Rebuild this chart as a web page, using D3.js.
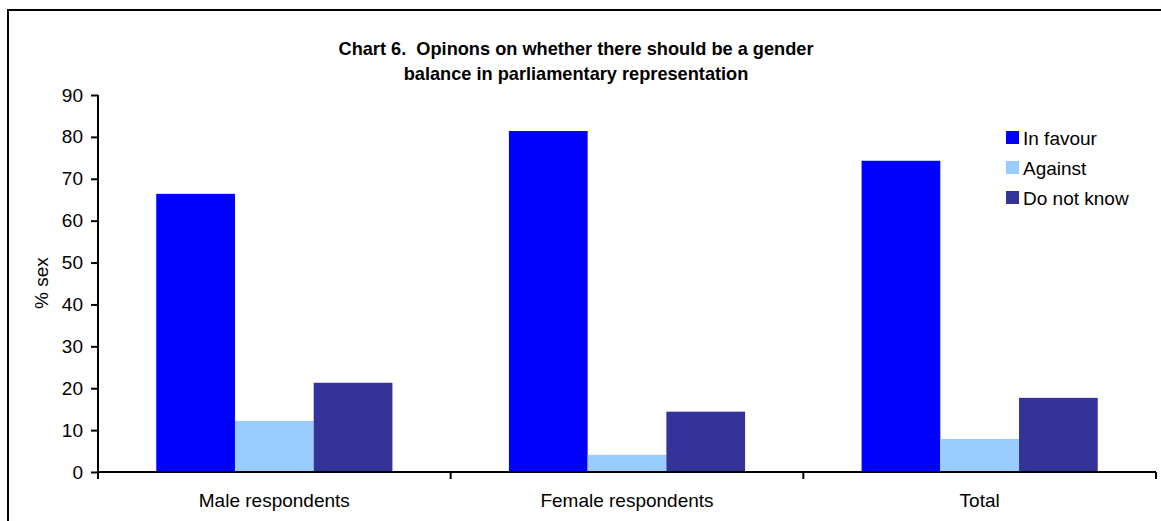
<!DOCTYPE html>
<html>
<head>
<meta charset="utf-8">
<script src="https://cdn.jsdelivr.net/npm/d3@7"></script>
<style>
  html, body { margin: 0; padding: 0; background: #fff; }
  svg { display: block; font-family: "Liberation Sans", Arial, sans-serif; }
  .title { white-space: pre; }
</style>
</head>
<body>
<svg id="chart" width="1161" height="521"></svg>
<script>
// Survey results: share of respondents by opinion, per group
const categories = ["Male respondents", "Female respondents", "Total"];
const seriesNames = ["In favour", "Against", "Do not know"];
const inFavour = [66.4, 81.4, 74.3];
const against = [12.2, 4.1, 7.9];
const doNotKnow = [21.3, 14.4, 17.7];
const yTicks = [0, 10, 20, 30, 40, 50, 60, 70, 80, 90];
const colors = ["#0000ff", "#99ccff", "#333399"];
const titleLines = [
  "Chart 6.  Opinons on whether there should be a gender",
  "balance in parliamentary representation"
];

const seriesValues = [inFavour, against, doNotKnow];
const rows = categories.map((c, i) => ({
  category: c,
  values: seriesNames.map((s, j) => ({ series: s, value: seriesValues[j][i] }))
}));

const svg = d3.select("#chart");
const fontSize = 19;

// outer frame
svg.append("rect")
  .attr("x", 8).attr("y", 10)
  .attr("width", 1170).attr("height", 530)
  .attr("fill", "none").attr("stroke", "#000").attr("stroke-width", 2);

const plot = { left: 98, right: 1156, top: 95, bottom: 472 };

const x0 = d3.scaleBand()
  .domain(categories)
  .range([plot.left, plot.right])
  .paddingInner(0).paddingOuter(0);

const x1 = d3.scaleBand()
  .domain(seriesNames)
  .range([0, x0.bandwidth()])
  .paddingInner(0).paddingOuter(0.74);

const y = d3.scaleLinear().domain([0, 90]).range([plot.bottom, plot.top]);

const color = d3.scaleOrdinal().domain(seriesNames).range(colors);

// bars
const groups = svg.append("g").selectAll("g")
  .data(rows).join("g")
  .attr("transform", d => `translate(${x0(d.category)},0)`);

groups.selectAll("rect")
  .data(d => d.values).join("rect")
  .attr("x", d => x1(d.series))
  .attr("y", d => y(d.value))
  .attr("width", x1.bandwidth())
  .attr("height", d => y(0) - y(d.value))
  .attr("fill", d => color(d.series));

// y axis
const yAxis = svg.append("g")
  .attr("transform", `translate(${plot.left},0)`)
  .call(d3.axisLeft(y).tickValues(yTicks).tickSize(7).tickPadding(8).tickSizeOuter(0));
yAxis.select(".domain").remove();
yAxis.selectAll(".tick line").attr("stroke", "#000").attr("stroke-width", 2);
yAxis.selectAll(".tick text")
  .attr("font-size", fontSize).attr("fill", "#000")
  .attr("font-family", "Liberation Sans, Arial, sans-serif");
yAxis.append("line")
  .attr("x1", 0).attr("x2", 0)
  .attr("y1", plot.top).attr("y2", plot.bottom + 7)
  .attr("stroke", "#000").attr("stroke-width", 2);

// x axis: baseline, ticks at band boundaries, labels centred in bands
const xAxis = svg.append("g");
xAxis.append("line")
  .attr("x1", plot.left).attr("x2", plot.right)
  .attr("y1", y(0)).attr("y2", y(0))
  .attr("stroke", "#000").attr("stroke-width", 2);
const boundaries = categories.map(c => x0(c) + x0.bandwidth()).concat([x0(categories[0])]);
xAxis.selectAll("line.tick")
  .data(boundaries).join("line")
  .attr("class", "tick")
  .attr("x1", d => d).attr("x2", d => d)
  .attr("y1", y(0)).attr("y2", y(0) + 7)
  .attr("stroke", "#000").attr("stroke-width", 2);
xAxis.selectAll("text")
  .data(categories).join("text")
  .attr("x", d => x0(d) + x0.bandwidth() / 2)
  .attr("y", 507)
  .attr("text-anchor", "middle")
  .attr("font-size", fontSize)
  .attr("fill", "#000")
  .text(d => d);

// y axis title
svg.append("text")
  .attr("transform", "translate(48,283) rotate(-90)")
  .attr("text-anchor", "middle")
  .attr("font-size", fontSize)
  .attr("fill", "#000")
  .text("% sex");

// chart title
svg.append("g").selectAll("text")
  .data(titleLines).join("text")
  .attr("class", "title")
  .attr("x", 576)
  .attr("y", (d, i) => 55 + i * 25)
  .attr("text-anchor", "middle")
  .attr("font-size", 18.2)
  .attr("font-weight", "bold")
  .attr("fill", "#000")
  .text(d => d);

// legend
const legend = svg.append("g").attr("transform", "translate(1006,131)");
const items = legend.selectAll("g")
  .data(seriesNames).join("g")
  .attr("transform", (d, i) => `translate(0,${i * 30})`);
items.append("rect")
  .attr("width", 13).attr("height", 13)
  .attr("fill", d => color(d));
items.append("text")
  .attr("x", 17).attr("y", 13.5)
  .attr("font-size", fontSize)
  .attr("fill", "#000")
  .text(d => d);
</script>
</body>
</html>
